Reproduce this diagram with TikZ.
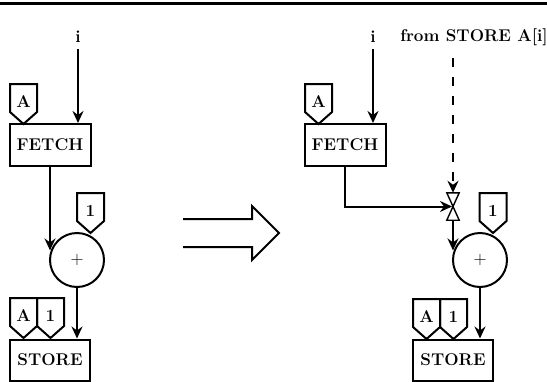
\documentclass[tikz,border=0pt]{standalone}
\usepackage{fontspec}
\setmainfont{Latin Modern Roman}
\usetikzlibrary{arrows.meta}
\begin{document}
\begin{tikzpicture}[x=1pt,y=-1pt,
  every node/.style={font=\fontsize{17}{20}\selectfont\bfseries, inner sep=0pt},
  box/.style={draw, line width=2pt, minimum width=81pt, minimum height=42pt},
  opc/.style={draw, circle, line width=2pt, minimum size=54pt, font=\fontsize{18}{20}\selectfont},
  tagline/.style={draw, line width=2pt, line join=miter},
  arr/.style={-{Stealth[length=12pt,width=11pt,inset=4pt]}, line width=2pt},
  darr/.style={arr, dash pattern=on 9pt off 10pt}
]
\useasboundingbox (0,0) rectangle (547,381);
\draw[line width=3pt] (0,3.5) -- (547,3.5);

% left graph
\node (i1) at (78,37) {i};
\node[box] (fetch1) at (50,145) {FETCH};
\node (tA1) at (23.5,102) {A};
\node[opc] (c1) at (77,260) {+};
\node (t11) at (90.5,211) {1};
\node[box, minimum width=80pt, minimum height=41pt] (store1) at (50,360) {STORE};
\node (tsA1) at (23.5,316) {A};
\node (ts11) at (50.5,316) {1};

% right graph
\node (i2) at (373,37) {i};
\node (from) at (474,37) {from STORE A[i]};
\coordinate (dtop) at (453,58);
\node[box] (fetch2) at (345,145) {FETCH};
\node (tA2) at (318.5,102) {A};
\node[minimum width=12pt, minimum height=27pt] (gate) at (453,206.5) {};
\node[opc] (c2) at (480,260) {+};
\node (t12) at (493,211) {1};
\node[box, minimum width=80pt, minimum height=41pt] (store2) at (453,360) {STORE};
\node (tsA2) at (426.5,317) {A};
\node (ts12) at (453.5,317) {1};

% tags
\foreach \t in {tA1,t11,tsA1,ts11,tA2,t12,tsA2,ts12}
  \draw[tagline] ([shift={(-13.5,-18)}]\t.center) -- ([shift={(13.5,-18)}]\t.center)
     -- ([shift={(13.5,10)}]\t.center) -- ([shift={(0,22)}]\t.center)
     -- ([shift={(-13.5,10)}]\t.center) -- cycle;

% gate triangles
\draw[tagline, line width=1.4pt] (gate.north west) -- (gate.north east) -- (gate.center) -- cycle;
\draw[tagline, line width=1.4pt] (gate.south west) -- (gate.south east) -- (gate.center) -- cycle;

% left connectors
\draw[arr] ([yshift=-12pt]i1.center) -- (i1 |- fetch1.north);
\draw[arr] (fetch1.south) -- (fetch1.south |- c1.160);
\draw[arr] (c1.south) -- (c1.south |- store1.north);

% right connectors
\draw[arr] ([yshift=-12pt]i2.center) -- (i2 |- fetch2.north);
\draw[darr] (dtop) -- (gate.north);
\draw[arr] (fetch2.south) |- ([xshift=-1pt]gate.center);
\draw[arr] (gate.south) -- (gate.south |- c2.160);
\draw[arr] (c2.south) -- (c2.south |- store2.north);

% transformation arrow
\draw[line width=2pt, line join=miter] (183,219) -- (252,219) -- (252,206) -- (279,233)
  -- (252,260) -- (252,247) -- (183,247);
\end{tikzpicture}
\end{document}
